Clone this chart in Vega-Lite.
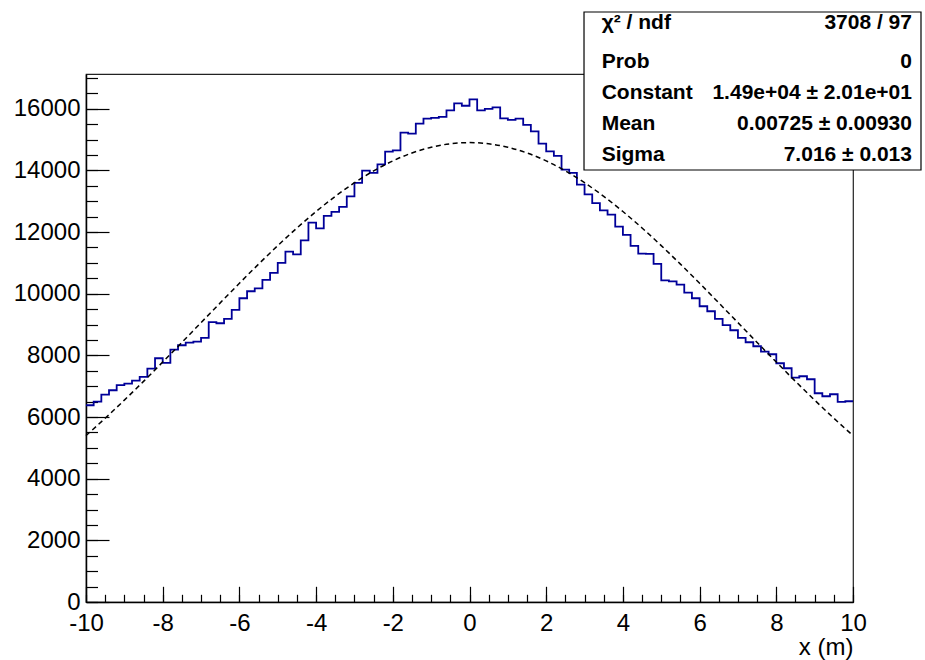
{
  "$schema": "https://vega.github.io/schema/vega-lite/v6.json",
  "width": 767,
  "height": 528,
  "autosize": {"type": "none"},
  "padding": {"left": 86, "top": 74, "right": 72, "bottom": 58},
  "background": "white",
  "config": {
    "view": {"stroke": "#222", "strokeWidth": 1.2},
    "font": "Liberation Sans",
    "axis": {"labelFont": "Liberation Sans", "titleFont": "Liberation Sans", "grid": false, "labelColor": "black", "titleColor": "black", "tickColor": "black", "domainColor": "black"}
  },
  "datasets": {
    "hist": [
      {"lo": -10, "hi": -9.8, "count": 6381}, {"lo": -9.8, "hi": -9.6, "count": 6501}, {"lo": -9.6, "hi": -9.4, "count": 6728}, {"lo": -9.4, "hi": -9.2, "count": 6868}, {"lo": -9.2, "hi": -9, "count": 7031},
      {"lo": -9, "hi": -8.8, "count": 7085}, {"lo": -8.8, "hi": -8.6, "count": 7182}, {"lo": -8.6, "hi": -8.4, "count": 7301}, {"lo": -8.4, "hi": -8.2, "count": 7571}, {"lo": -8.2, "hi": -8, "count": 7906},
      {"lo": -8, "hi": -7.8, "count": 7756}, {"lo": -7.8, "hi": -7.6, "count": 8188}, {"lo": -7.6, "hi": -7.4, "count": 8327}, {"lo": -7.4, "hi": -7.2, "count": 8414}, {"lo": -7.2, "hi": -7, "count": 8447},
      {"lo": -7, "hi": -6.8, "count": 8566}, {"lo": -6.8, "hi": -6.6, "count": 9080}, {"lo": -6.6, "hi": -6.4, "count": 9041}, {"lo": -6.4, "hi": -6.2, "count": 9182}, {"lo": -6.2, "hi": -6, "count": 9474},
      {"lo": -6, "hi": -5.8, "count": 9851}, {"lo": -5.8, "hi": -5.6, "count": 10078}, {"lo": -5.6, "hi": -5.4, "count": 10175}, {"lo": -5.4, "hi": -5.2, "count": 10447}, {"lo": -5.2, "hi": -5, "count": 10674},
      {"lo": -5, "hi": -4.8, "count": 10998}, {"lo": -4.8, "hi": -4.6, "count": 11365}, {"lo": -4.6, "hi": -4.4, "count": 11278}, {"lo": -4.4, "hi": -4.2, "count": 11732}, {"lo": -4.2, "hi": -4, "count": 12305},
      {"lo": -4, "hi": -3.8, "count": 12121}, {"lo": -3.8, "hi": -3.6, "count": 12523}, {"lo": -3.6, "hi": -3.4, "count": 12652}, {"lo": -3.4, "hi": -3.2, "count": 12815}, {"lo": -3.2, "hi": -3, "count": 13159},
      {"lo": -3, "hi": -2.8, "count": 13592}, {"lo": -2.8, "hi": -2.6, "count": 13991}, {"lo": -2.6, "hi": -2.4, "count": 13916}, {"lo": -2.4, "hi": -2.2, "count": 14196}, {"lo": -2.2, "hi": -2, "count": 14608},
      {"lo": -2, "hi": -1.8, "count": 14650}, {"lo": -1.8, "hi": -1.6, "count": 15224}, {"lo": -1.6, "hi": -1.4, "count": 15191}, {"lo": -1.4, "hi": -1.2, "count": 15515}, {"lo": -1.2, "hi": -1, "count": 15678},
      {"lo": -1, "hi": -0.8, "count": 15700}, {"lo": -0.8, "hi": -0.6, "count": 15732}, {"lo": -0.6, "hi": -0.4, "count": 15947}, {"lo": -0.4, "hi": -0.2, "count": 16174}, {"lo": -0.2, "hi": 0, "count": 16095},
      {"lo": 0, "hi": 0.2, "count": 16305}, {"lo": 0.2, "hi": 0.4, "count": 15947}, {"lo": 0.4, "hi": 0.6, "count": 15991}, {"lo": 0.6, "hi": 0.8, "count": 16045}, {"lo": 0.8, "hi": 1, "count": 15689},
      {"lo": 1, "hi": 1.2, "count": 15635}, {"lo": 1.2, "hi": 1.4, "count": 15678}, {"lo": 1.4, "hi": 1.6, "count": 15473}, {"lo": 1.6, "hi": 1.8, "count": 15266}, {"lo": 1.8, "hi": 2, "count": 14867},
      {"lo": 2, "hi": 2.2, "count": 14618}, {"lo": 2.2, "hi": 2.4, "count": 14468}, {"lo": 2.4, "hi": 2.6, "count": 14024}, {"lo": 2.6, "hi": 2.8, "count": 13916}, {"lo": 2.8, "hi": 3, "count": 13537},
      {"lo": 3, "hi": 3.2, "count": 13223}, {"lo": 3.2, "hi": 3.4, "count": 12940}, {"lo": 3.4, "hi": 3.6, "count": 12705}, {"lo": 3.6, "hi": 3.8, "count": 12565}, {"lo": 3.8, "hi": 4, "count": 12176},
      {"lo": 4, "hi": 4.2, "count": 11906}, {"lo": 4.2, "hi": 4.4, "count": 11550}, {"lo": 4.4, "hi": 4.6, "count": 11300}, {"lo": 4.6, "hi": 4.8, "count": 11290}, {"lo": 4.8, "hi": 5, "count": 10966},
      {"lo": 5, "hi": 5.2, "count": 10434}, {"lo": 5.2, "hi": 5.4, "count": 10402}, {"lo": 5.4, "hi": 5.6, "count": 10295}, {"lo": 5.6, "hi": 5.8, "count": 10036}, {"lo": 5.8, "hi": 6, "count": 9851},
      {"lo": 6, "hi": 6.2, "count": 9592}, {"lo": 6.2, "hi": 6.4, "count": 9430}, {"lo": 6.4, "hi": 6.6, "count": 9182}, {"lo": 6.6, "hi": 6.8, "count": 8980}, {"lo": 6.8, "hi": 7, "count": 8814},
      {"lo": 7, "hi": 7.2, "count": 8566}, {"lo": 7.2, "hi": 7.4, "count": 8424}, {"lo": 7.4, "hi": 7.6, "count": 8295}, {"lo": 7.6, "hi": 7.8, "count": 8122}, {"lo": 7.8, "hi": 8, "count": 8035},
      {"lo": 8, "hi": 8.2, "count": 7744}, {"lo": 8.2, "hi": 8.4, "count": 7581}, {"lo": 8.4, "hi": 8.6, "count": 7279}, {"lo": 8.6, "hi": 8.8, "count": 7322}, {"lo": 8.8, "hi": 9, "count": 7225},
      {"lo": 9, "hi": 9.2, "count": 6771}, {"lo": 9.2, "hi": 9.4, "count": 6674}, {"lo": 9.4, "hi": 9.6, "count": 6738}, {"lo": 9.6, "hi": 9.8, "count": 6491}, {"lo": 9.8, "hi": 10, "count": 6511}
    ],
    "fit": [
      {"x": -10, "y": 5397}, {"x": -9.5, "y": 5960}, {"x": -9, "y": 6548}, {"x": -8.5, "y": 7156}, {"x": -8, "y": 7782}, {"x": -7.5, "y": 8418}, {"x": -7, "y": 9061},
      {"x": -6.5, "y": 9701}, {"x": -6, "y": 10337}, {"x": -5.5, "y": 10958}, {"x": -5, "y": 11558}, {"x": -4.5, "y": 12130}, {"x": -4, "y": 12665}, {"x": -3.5, "y": 13157},
      {"x": -3, "y": 13598}, {"x": -2.5, "y": 13983}, {"x": -2, "y": 14307}, {"x": -1.5, "y": 14563}, {"x": -1, "y": 14749}, {"x": -0.5, "y": 14862}, {"x": 0, "y": 14900},
      {"x": 0.5, "y": 14862}, {"x": 1, "y": 14749}, {"x": 1.5, "y": 14563}, {"x": 2, "y": 14307}, {"x": 2.5, "y": 13983}, {"x": 3, "y": 13598}, {"x": 3.5, "y": 13157},
      {"x": 4, "y": 12665}, {"x": 4.5, "y": 12130}, {"x": 5, "y": 11558}, {"x": 5.5, "y": 10958}, {"x": 6, "y": 10337}, {"x": 6.5, "y": 9701}, {"x": 7, "y": 9061},
      {"x": 7.5, "y": 8418}, {"x": 8, "y": 7782}, {"x": 8.5, "y": 7156}, {"x": 9, "y": 6548}, {"x": 9.5, "y": 5960}, {"x": 10, "y": 5397}
    ],
    "stats": [
      {"row": 1, "name": "χ² / ndf", "val": "3708 / 97"},
      {"row": 2, "name": "Prob", "val": "0"},
      {"row": 3, "name": "Constant", "val": "1.49e+04 ± 2.01e+01"},
      {"row": 4, "name": "Mean", "val": "0.00725 ± 0.00930"},
      {"row": 5, "name": "Sigma", "val": "7.016 ± 0.013"}
    ]
  },
  "layer": [
    {
      "data": {"name": "hist"},
      "transform": [{"fold": ["lo", "hi"], "as": ["edge", "xe"]}],
      "mark": {"type": "line", "color": "#000099", "strokeWidth": 1.8},
      "encoding": {
        "x": {"field": "xe", "type": "quantitative", "scale": {"domain": [-10, 10], "nice": false, "zero": false},
          "axis": {"orient": "bottom", "values": [-10, -8, -6, -4, -2, 0, 2, 4, 6, 8, 10], "tickSize": -15.7, "tickWidth": 1.2, "labelPadding": 25, "labelFontSize": 24, "labelFlush": false, "labelOverlap": false, "labelExpr": "'' + datum.value", "domainWidth": 1.5, "title": "x (m)", "titleAnchor": "end", "titleFontSize": 24, "titleFontWeight": "normal", "titlePadding": 0}},
        "y": {"field": "count", "type": "quantitative", "scale": {"domain": [0, 17125], "nice": false, "zero": true},
          "axis": {"orient": "left", "values": [0, 2000, 4000, 6000, 8000, 10000, 12000, 14000, 16000], "tickSize": -23, "tickWidth": 1.2, "labelPadding": 29, "labelFontSize": 24, "labelExpr": "'' + datum.value", "domainWidth": 1.5, "title": null}},
        "order": [{"field": "lo", "type": "quantitative"}, {"field": "edge", "type": "nominal", "sort": "descending"}]
      }
    },
    {
      "data": {"name": "fit"},
      "mark": {"type": "line", "color": "black", "strokeWidth": 1.5, "strokeDash": [5, 3.5], "interpolate": "monotone"},
      "encoding": {
        "x": {"field": "x", "type": "quantitative", "scale": {"domain": [-10, 10], "nice": false, "zero": false},
          "axis": {"orient": "bottom", "values": [-10, -9.5, -9, -8.5, -8, -7.5, -7, -6.5, -6, -5.5, -5, -4.5, -4, -3.5, -3, -2.5, -2, -1.5, -1, -0.5, 0, 0.5, 1, 1.5, 2, 2.5, 3, 3.5, 4, 4.5, 5, 5.5, 6, 6.5, 7, 7.5, 8, 8.5, 9, 9.5, 10], "tickSize": -7.7, "tickWidth": 1.2, "labels": false, "domain": false, "title": null}},
        "y": {"field": "y", "type": "quantitative", "scale": {"domain": [0, 17125], "nice": false, "zero": true},
          "axis": {"orient": "left", "values": [0, 500, 1000, 1500, 2000, 2500, 3000, 3500, 4000, 4500, 5000, 5500, 6000, 6500, 7000, 7500, 8000, 8500, 9000, 9500, 10000, 10500, 11000, 11500, 12000, 12500, 13000, 13500, 14000, 14500, 15000, 15500, 16000, 16500, 17000], "tickSize": -11.5, "tickWidth": 1.2, "labels": false, "domain": false, "title": null}}
      }
    },
    {
      "data": {"values": [{"box": "stats"}]},
      "mark": {"type": "rect", "fill": "white", "stroke": "black", "strokeWidth": 1.2},
      "encoding": {
        "x": {"datum": 2.986, "type": "quantitative", "scale": {"domain": [-10, 10], "nice": false, "zero": false}, "axis": null},
        "x2": {"datum": 11.773},
        "y": {"datum": 0.2194, "type": "quantitative", "scale": {"domain": [2.2085, 19.148], "reverse": true, "nice": false, "zero": false}, "axis": null},
        "y2": {"datum": 5.2884}
      }
    },
    {
      "data": {"name": "stats"},
      "transform": [{"filter": "datum.row > 1"}],
      "mark": {"type": "text", "align": "left", "baseline": "alphabetic", "fontSize": 21, "fontWeight": "bold", "color": "black", "font": "Liberation Sans"},
      "encoding": {
        "x": {"datum": 3.447, "type": "quantitative", "scale": {"domain": [-10, 10], "nice": false, "zero": false}, "axis": null},
        "y": {"field": "row", "type": "quantitative", "scale": {"domain": [2.2085, 19.148], "reverse": true, "nice": false, "zero": false}, "axis": null},
        "text": {"field": "name"}
      }
    },
    {
      "data": {"name": "stats"},
      "transform": [{"filter": "datum.row > 1"}],
      "mark": {"type": "text", "align": "right", "baseline": "alphabetic", "fontSize": 21, "fontWeight": "bold", "color": "black", "font": "Liberation Sans"},
      "encoding": {
        "x": {"datum": 11.538, "type": "quantitative", "scale": {"domain": [-10, 10], "nice": false, "zero": false}, "axis": null},
        "y": {"field": "row", "type": "quantitative", "scale": {"domain": [2.2085, 19.148], "reverse": true, "nice": false, "zero": false}, "axis": null},
        "text": {"field": "val"}
      }
    },
    {
      "data": {"name": "stats"},
      "transform": [{"filter": "datum.row === 1"}],
      "mark": {"type": "text", "align": "left", "baseline": "alphabetic", "dy": -7, "fontSize": 21, "fontWeight": "bold", "color": "black", "font": "Liberation Sans"},
      "encoding": {
        "x": {"datum": 3.447, "type": "quantitative", "scale": {"domain": [-10, 10], "nice": false, "zero": false}, "axis": null},
        "y": {"field": "row", "type": "quantitative", "scale": {"domain": [2.2085, 19.148], "reverse": true, "nice": false, "zero": false}, "axis": null},
        "text": {"field": "name"}
      }
    },
    {
      "data": {"name": "stats"},
      "transform": [{"filter": "datum.row === 1"}],
      "mark": {"type": "text", "align": "right", "baseline": "alphabetic", "dy": -7, "fontSize": 21, "fontWeight": "bold", "color": "black", "font": "Liberation Sans"},
      "encoding": {
        "x": {"datum": 11.538, "type": "quantitative", "scale": {"domain": [-10, 10], "nice": false, "zero": false}, "axis": null},
        "y": {"field": "row", "type": "quantitative", "scale": {"domain": [2.2085, 19.148], "reverse": true, "nice": false, "zero": false}, "axis": null},
        "text": {"field": "val"}
      }
    }
  ],
  "resolve": {"scale": {"y": "independent"}, "axis": {"x": "independent", "y": "independent"}}
}
